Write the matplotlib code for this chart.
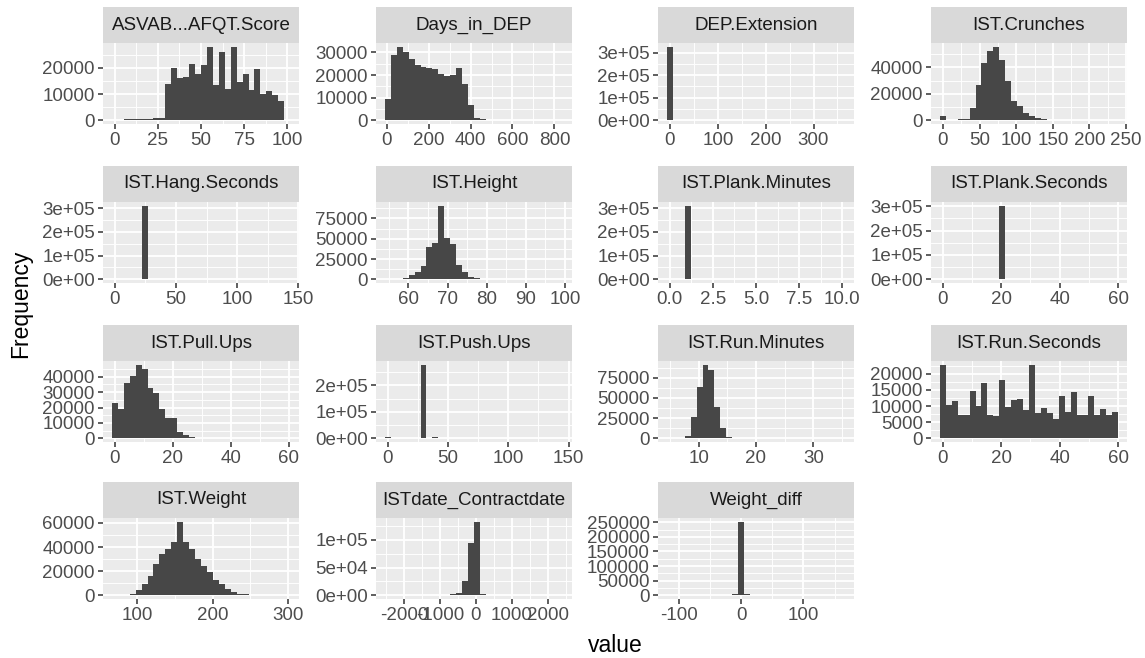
import numpy as np
import matplotlib
matplotlib.use('Agg')
import matplotlib.pyplot as plt
from matplotlib.ticker import FixedLocator, FixedFormatter

plt.rcParams['font.family'] = ['Liberation Sans', 'DejaVu Sans']

# facet names, in facet_wrap order
names = ['ASVAB...AFQT.Score', 'Days_in_DEP', 'DEP.Extension', 'IST.Crunches',
         'IST.Hang.Seconds', 'IST.Height', 'IST.Plank.Minutes', 'IST.Plank.Seconds',
         'IST.Pull.Ups', 'IST.Push.Ups', 'IST.Run.Minutes', 'IST.Run.Seconds',
         'IST.Weight', 'ISTdate_Contractdate', 'Weight_diff']

# 30 bins per facet (ggplot default)
asvab = [300, 0, 500, 500, 600, 600, 600, 700, 700, 14000, 20000, 16000, 16500, 21500, 17500,
         21000, 28000, 13500, 26000, 12000, 28000, 14500, 17500, 11500, 19500, 10000, 11000,
         9500, 7500, 0]
days_in_dep = [9400, 29000, 32500, 30100, 27000, 24400, 23400, 22900, 22600, 20300, 19700,
               19800, 22900, 16000, 6600, 1000, 500, 350, 300, 300, 280, 250, 250, 220, 200,
               180, 0, 0, 0, 5]
dep_ext = [326000, 0, 1500, 0, 0, 1200, 0, 0, 1000, 0, 800, 0, 700, 0, 600, 0, 0, 0, 0, 0,
           0, 0, 0, 0, 0, 0, 0, 0, 0, 5]
crunches = [3500, 100, 300, 1000, 1300, 9500, 26400, 43500, 52000, 55600, 45300, 29700, 14800,
            10600, 5500, 3000, 1800, 900, 600, 450, 400, 350, 300, 300, 250, 200, 0, 0, 0, 5]
hang_sec = [3000, 0, 0, 0, 0, 311000, 500, 400, 300, 300, 250, 200, 200, 150, 100, 100, 0, 0,
            0, 0, 0, 0, 0, 0, 0, 0, 0, 0, 0, 5]
height = [0, 50, 800, 2000, 5300, 8900, 16600, 39300, 44600, 90800, 50600, 43000, 18200, 8900,
          2800, 1200, 300, 100, 50, 0, 0, 0, 0, 0, 0, 0, 0, 0, 0, 5]
plank_min = [1500, 0, 0, 311000, 0, 0, 2500, 0, 0, 1500, 0, 0, 800, 0, 0, 0, 0, 0, 0, 0, 0,
             0, 0, 0, 0, 0, 0, 0, 0, 5]
plank_sec = [2500, 0, 0, 0, 0, 800, 0, 700, 0, 0, 302000, 0, 0, 0, 0, 1500, 0, 0, 0, 0, 800,
             0, 1500, 0, 0, 500, 0, 0, 0, 200]
pull_ups = [22800, 19100, 35700, 40400, 47800, 45200, 32600, 29300, 19300, 13000, 13000, 4300,
            2000, 1100, 500, 250, 150, 100, 60, 40, 30, 20, 10, 10, 5, 5, 0, 0, 0, 5]
push_ups = [5000, 0, 0, 1000, 1200, 1500, 278000, 1500, 3500, 1500, 1200, 1000, 800, 600, 500,
            400, 300, 200, 150, 100, 80, 50, 30, 20, 10, 10, 5, 5, 0, 5]
run_min = [0, 0, 200, 2900, 26400, 63800, 91000, 84900, 39100, 12800, 1200, 600, 300, 200, 100,
           50, 30, 20, 10, 5, 5, 0, 0, 0, 0, 0, 0, 0, 0, 5]
run_sec = [22800, 10400, 11400, 7150, 7150, 14700, 10150, 17000, 7150, 6950, 18100, 9600, 12000,
           12200, 8700, 22800, 7900, 9300, 7700, 6100, 13000, 8100, 14200, 7350, 7350, 13000,
           7350, 9200, 7350, 8200]
weight = [0, 100, 300, 1500, 4000, 9000, 16000, 26000, 34000, 38000, 44000, 61000, 44000, 38000,
          30000, 24000, 19000, 13000, 9000, 5500, 3000, 1500, 800, 400, 200, 100, 50, 30, 10, 5]
date_diff = [5, 0, 0, 0, 0, 0, 0, 0, 0, 0, 300, 1500, 4000, 25000, 95000, 133000, 2000, 300,
             100, 0, 0, 0, 0, 0, 0, 0, 0, 0, 0, 5]
weight_diff = [5, 0, 0, 0, 0, 0, 0, 300, 800, 1500, 2500, 5000, 252000, 5000, 2500, 1200, 600,
               300, 100, 0, 0, 0, 0, 0, 0, 0, 0, 0, 0, 5]

counts = [asvab, days_in_dep, dep_ext, crunches, hang_sec, height, plank_min, plank_sec,
          pull_ups, push_ups, run_min, run_sec, weight, date_diff, weight_diff]

# outer bin edges of each facet
bin_lo = [-1.72, -8.5, -6.4, -4.05, -2.43, 54.0, -0.172, -1.017, -1.03, -2.47, 4.48, -1.017,
          66.5, -2530, -119.1]
bin_hi = [101.72, 841.5, 366.0, 239.0, 143.4, 99.5, 10.172, 60.0, 60.5, 145.5, 35.52, 60.0,
          302.7, 2420, 166.8]

xticks = [[0, 25, 50, 75, 100], [0, 200, 400, 600, 800], [0, 100, 200, 300],
          [0, 50, 100, 150, 200, 250], [0, 50, 100, 150], [60, 70, 80, 90, 100],
          [0.0, 2.5, 5.0, 7.5, 10.0], [0, 20, 40, 60], [0, 20, 40, 60], [0, 50, 100, 150],
          [10, 20, 30], [0, 20, 40, 60], [100, 200, 300], [-2000, -1000, 0, 1000, 2000],
          [-100, 0, 100]]
yticks = [[0, 10000, 20000], [0, 10000, 20000, 30000], [0, 1e5, 2e5, 3e5], [0, 20000, 40000],
          [0, 1e5, 2e5, 3e5], [0, 25000, 50000, 75000], [0, 1e5, 2e5, 3e5], [0, 1e5, 2e5, 3e5],
          [0, 10000, 20000, 30000, 40000], [0, 1e5, 2e5], [0, 25000, 50000, 75000],
          [0, 5000, 10000, 15000, 20000], [0, 20000, 40000, 60000], [0, 5e4, 1e5],
          [0, 50000, 100000, 150000, 200000, 250000]]
sci_y = [False, False, True, False, True, False, True, True, False, True, False, False, False,
         True, False]

W, H = 1145, 658
col_x = [103, 376, 658, 931]
panel_w = 196
row_top = [43, 202, 361, 518]
panel_h = 81
strip_h = 36

fig = plt.figure(figsize=(W / 100, H / 100), dpi=100)
fig.patch.set_facecolor('white')


def minor_of(ticks, lo, hi):
    step = ticks[1] - ticks[0]
    cand = [ticks[0] - step / 2] + [t + step / 2 for t in ticks]
    return [m for m in cand if lo <= m <= hi]


def fmt(v, sci, decimals):
    if sci:
        return f'{v:.0e}'
    if decimals:
        return f'{v:.1f}'
    return f'{int(round(v))}'


for i, name in enumerate(names):
    r, c = divmod(i, 4)
    x0, top = col_x[c], row_top[r]
    ax = fig.add_axes([x0 / W, 1 - (top + panel_h) / H, panel_w / W, panel_h / H])
    ax.set_facecolor('#EBEBEB')
    for s in ax.spines.values():
        s.set_visible(False)

    edges = np.linspace(bin_lo[i], bin_hi[i], len(counts[i]) + 1)
    ax.bar(edges[:-1], counts[i], width=np.diff(edges), align='edge',
           color='#474747', linewidth=0, zorder=3)

    span = bin_hi[i] - bin_lo[i]
    xl = (bin_lo[i] - 0.05 * span, bin_hi[i] + 0.05 * span)
    ymax = max(counts[i])
    yl = (-0.05 * ymax, 1.05 * ymax)
    ax.set_xlim(xl)
    ax.set_ylim(yl)

    xt = [t for t in xticks[i] if xl[0] <= t <= xl[1]]
    yt = [t for t in yticks[i] if yl[0] <= t <= yl[1]]
    dec = any(float(t) != int(t) for t in xt)
    ax.xaxis.set_major_locator(FixedLocator(xt))
    ax.xaxis.set_major_formatter(FixedFormatter([fmt(t, False, dec) for t in xt]))
    ax.yaxis.set_major_locator(FixedLocator(yt))
    ax.yaxis.set_major_formatter(FixedFormatter([fmt(t, sci_y[i], False) for t in yt]))
    ax.xaxis.set_minor_locator(FixedLocator(minor_of(xt, *xl)))
    ax.yaxis.set_minor_locator(FixedLocator(minor_of(yt, *yl)))

    ax.grid(which='major', color='white', linewidth=1.3, zorder=1)
    ax.grid(which='minor', color='white', linewidth=0.65, zorder=1)
    ax.set_axisbelow(True)
    ax.tick_params(which='major', length=3.8, width=1.1, color='#333333',
                   labelcolor='#4D4D4D', labelsize=13.5, pad=2.0)
    ax.tick_params(which='minor', length=0)

    sx = fig.add_axes([x0 / W, 1 - top / H, panel_w / W, strip_h / H])
    sx.set_facecolor('#D9D9D9')
    sx.set_xticks([])
    sx.set_yticks([])
    for s in sx.spines.values():
        s.set_visible(False)
    sx.text(0.5, 0.5, name, ha='center', va='center', fontsize=13.5, color='#1A1A1A',
            transform=sx.transAxes)

fig.text(615 / W, 1 - 646 / H, 'value', ha='center', va='center', fontsize=16.5, color='black')
fig.text(21 / W, 1 - 304 / H, 'Frequency', ha='center', va='center', rotation=90,
         fontsize=16.5, color='black')

fig.savefig('out.png', dpi=100)
